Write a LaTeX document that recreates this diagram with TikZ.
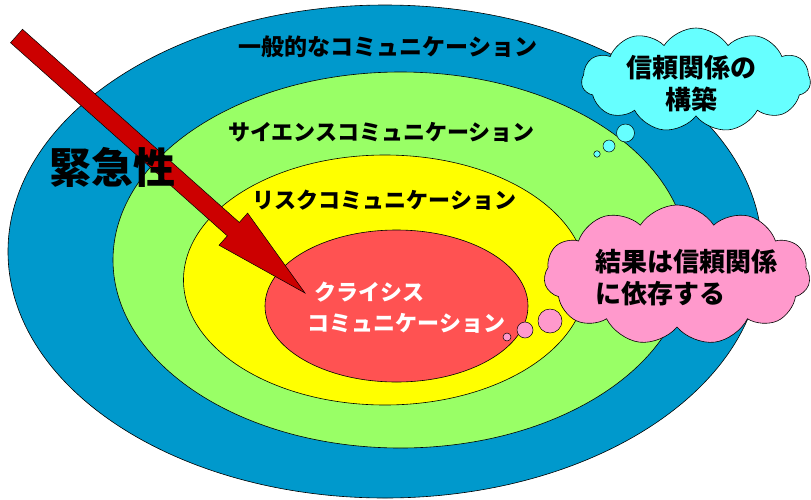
\documentclass[tikz,border=0pt]{standalone}
\usepackage{fontspec}
\setmainfont{Noto Sans CJK JP}
\usetikzlibrary{shapes.geometric,shapes.symbols,calc}

\definecolor{generalblue}{RGB}{0,153,204}
\definecolor{sciencegreen}{RGB}{153,255,102}
\definecolor{riskyellow}{RGB}{255,255,0}
\definecolor{crisisred}{RGB}{255,82,82}
\definecolor{arrowred}{RGB}{204,0,0}
\definecolor{trustcyan}{RGB}{102,255,255}
\definecolor{resultpink}{RGB}{255,153,204}

\begin{document}
\begin{tikzpicture}[x=1pt,y=-1pt,
    ring/.style={ellipse, draw=black, line width=0.6pt, inner sep=0pt},
    lbl/.style={font=\fontsize{22}{31}\selectfont\bfseries},
    thought/.style={cloud, cloud puffs=11, cloud puff arc=115, cloud ignores aspect,
        draw=black, line width=0.6pt, inner sep=0pt},
    thoughttext/.style={font=\fontsize{26}{32}\selectfont\bfseries},
    bubble/.style={circle, draw=black, line width=0.5pt, inner sep=0pt}]
    \useasboundingbox (0,0) rectangle (811,499);
    % nested rings
    \node[ring, fill=generalblue, minimum width=754pt, minimum height=493pt] (general) at (385,251.5) {};
    \node[ring, fill=sciencegreen, minimum width=575pt, minimum height=376pt] (science) at (400.5,260) {};
    \node[ring, fill=riskyellow, minimum width=403pt, minimum height=250pt] (risk) at (385,280) {};
    \node[ring, fill=crisisred, minimum width=263pt, minimum height=152pt] (crisis) at (396.5,306) {};
    \node[lbl, font=\fontsize{23}{31}\selectfont\bfseries] (generaltext) at (388,47) {一般的なコミュニケーション};
    \node[lbl] (sciencetext) at (381.5,132) {サイエンスコミュニケーション};
    \node[lbl] (risktext) at (384.5,200) {リスクコミュニケーション};
    % urgency arrow
    \coordinate (tail) at (16.5,36);
    \coordinate (tip) at (305,293);
    \coordinate (base) at ($(tip)!96pt!(tail)$);
    \filldraw[fill=arrowred, draw=black, line width=0.5pt]
        ($(tail)!9pt!90:(tip)$) -- ($(base)!9pt!90:(tip)$) -- ($(base)!21.5pt!90:(tip)$) -- (tip)
        -- ($(base)!21.5pt!-90:(tip)$) -- ($(base)!9pt!-90:(tip)$) -- ($(tail)!9pt!-90:(tip)$) -- cycle;
    \node[lbl, text=white, align=left, anchor=west] (crisistext) at (304,307.5) {\hspace*{7pt}クライシス\\コミュニケーション};
    \node[font=\fontsize{42}{42}\selectfont\bfseries] (urgency) at (112,167) {緊急性};
    % thoughts
    \node[thought, fill=trustcyan, minimum width=229pt, minimum height=104pt] (trust) at (696,80) {};
    \node[thoughttext, align=center] (trusttext) at (691,84) {信頼関係の\\構築};
    \node[bubble, fill=trustcyan, minimum size=18pt] (tb1) at (625.5,133) {};
    \node[bubble, fill=trustcyan, minimum size=12pt] (tb2) at (609,146) {};
    \node[bubble, fill=trustcyan, minimum size=6.5pt] (tb3) at (597,154) {};
    \node[thought, fill=resultpink, minimum width=266pt, minimum height=140pt] (result) at (677,275) {};
    \node[thoughttext, align=left, anchor=west] (resulttext) at (592,278) {結果は信頼関係\\に依存する};
    \node[bubble, fill=resultpink, minimum size=24pt] (rb1) at (550,321) {};
    \node[bubble, fill=resultpink, minimum size=16pt] (rb2) at (525,330) {};
    \node[bubble, fill=resultpink, minimum size=8pt] (rb3) at (507,337) {};
\end{tikzpicture}
\end{document}
